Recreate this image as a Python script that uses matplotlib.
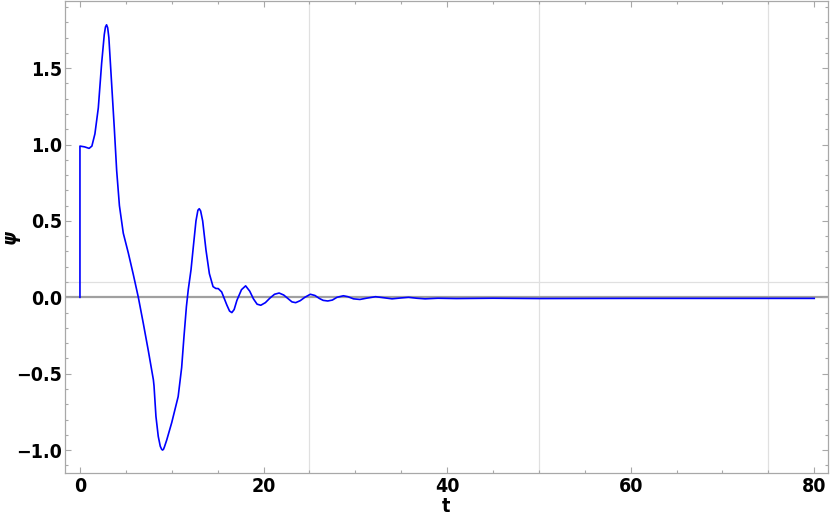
import matplotlib.pyplot as plt
from matplotlib.ticker import MultipleLocator

plt.rcParams['font.family'] = ['DejaVu Sans']
plt.rcParams['font.stretch'] = 'condensed'

# psi(t)
t_vals = [0.0, 0.0, 0.5, 1.0, 1.3, 1.63, 2.0, 2.36, 2.65, 2.78, 2.9, 3.02, 3.15,
          3.45, 3.74, 4.0, 4.3, 4.72, 5.27, 5.81, 6.36, 6.9, 7.45, 8.0, 8.07,
          8.28, 8.53, 8.75, 8.9, 9.0, 9.1, 9.2, 9.45, 10.0, 10.7, 11.08, 11.33,
          11.6, 11.8, 12.1, 12.35, 12.64, 12.85, 13.0, 13.15, 13.37, 13.73,
          14.1, 14.5, 14.8, 15.07, 15.44, 16.0, 16.3, 16.55, 16.8, 17.1, 17.6,
          18.05, 18.5, 18.9, 19.3, 19.7, 20.2, 20.7, 21.2, 21.7, 22.2, 22.7,
          23.1, 23.5, 24.0, 24.5, 25.1, 25.6, 26.1, 26.5, 27.0, 27.5, 28.0,
          28.7, 29.2, 29.8, 30.5, 31.2, 32.2, 33.0, 34.0, 35.0, 35.8, 36.7,
          37.6, 39.0, 41.0, 45.0, 50.0, 60.0, 70.0, 80.0]
psi_vals = [0.0, 0.99, 0.985, 0.975, 0.99, 1.07, 1.24, 1.53, 1.72, 1.77, 1.784,
            1.765, 1.70, 1.40, 1.11, 0.83, 0.60, 0.42, 0.29, 0.15, 0.0, -0.17,
            -0.35, -0.54, -0.58, -0.78, -0.91, -0.975, -0.995, -1.0, -0.995,
            -0.98, -0.935, -0.82, -0.65, -0.46, -0.26, -0.06, 0.05, 0.18, 0.33,
            0.50, 0.57, 0.58, 0.565, 0.50, 0.31, 0.155, 0.07, 0.058, 0.057,
            0.035, -0.05, -0.09, -0.10, -0.08, -0.02, 0.05, 0.075, 0.04, -0.01,
            -0.045, -0.052, -0.035, -0.005, 0.02, 0.028, 0.015, -0.01, -0.03,
            -0.035, -0.022, 0.0, 0.02, 0.012, -0.008, -0.02, -0.024, -0.018,
            0.0, 0.01, 0.004, -0.01, -0.014, -0.006, 0.004, -0.002, -0.01,
            -0.004, 0.0, -0.006, -0.01, -0.006, -0.008, -0.006, -0.008, -0.007,
            -0.007, -0.007]

grid_t = [25, 50, 75]
grid_psi = [0.1]

fig = plt.figure(figsize=(8.3, 5.15), dpi=100)
ax = fig.add_axes([0.0783, 0.0816, 0.9193, 0.9174])

for g in grid_t:
    ax.axvline(g, color="#e0e0e0", lw=0.9, zorder=0)
for g in grid_psi:
    ax.axhline(g, color="#e0e0e0", lw=0.9, zorder=0)
ax.axhline(0, color="#a0a0a0", lw=1.6, zorder=1)

ax.plot(t_vals, psi_vals, color="#0000ff", lw=1.2, zorder=2)

ax.set_xlim(-1.63, 81.5)
ax.set_ylim(-1.15, 1.943)
ax.xaxis.set_major_locator(MultipleLocator(20))
ax.xaxis.set_minor_locator(MultipleLocator(5))
ax.yaxis.set_major_locator(MultipleLocator(0.5))
ax.yaxis.set_minor_locator(MultipleLocator(0.1))

for s in ax.spines.values():
    s.set_color("#a8a8a8")
    s.set_linewidth(0.9)
ax.tick_params(which="both", direction="in", top=True, right=True,
               color="#a8a8a8", width=0.8)
ax.tick_params(which="major", length=4.5)
ax.tick_params(which="minor", length=2.5)
ax.tick_params(axis="x", which="major", pad=3, labelsize=14)
ax.tick_params(axis="y", which="major", pad=2, labelsize=14)
for lab in ax.get_xticklabels() + ax.get_yticklabels():
    lab.set_fontweight("bold")

ax.set_xlabel("t", fontsize=14, fontweight="bold")
ax.xaxis.set_label_coords(0.4997, -0.05)
ax.set_ylabel("ψ", fontsize=14, fontweight="bold", style="italic")
ax.yaxis.set_label_coords(-0.06, 0.5)

fig.savefig("out.png", dpi=100)
